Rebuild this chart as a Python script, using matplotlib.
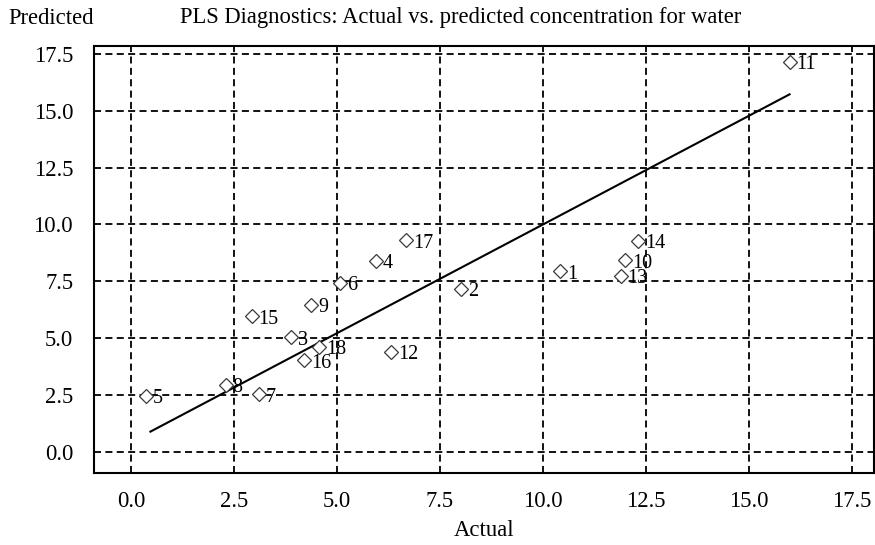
import matplotlib
matplotlib.use("Agg")
import matplotlib.pyplot as plt

# ---- data ----
sample_ids = ["1", "2", "3", "4", "5", "6", "7", "8", "9", "10",
              "11", "12", "13", "14", "15", "16", "17", "18"]
actual = [10.41, 8.01, 3.89, 5.95, 0.37, 5.07, 3.10, 2.30, 4.38, 12.00,
          15.99, 6.32, 11.89, 12.32, 2.93, 4.21, 6.68, 4.57]
predicted = [7.93, 7.17, 5.03, 8.38, 2.44, 7.43, 2.52, 2.95, 6.46, 8.41,
             17.16, 4.40, 7.73, 9.26, 5.95, 4.02, 9.29, 4.62]
fit_x = [0.47, 15.99]
fit_y = [0.88, 15.72]
ticks = [0.0, 2.5, 5.0, 7.5, 10.0, 12.5, 15.0, 17.5]
tick_labels = ["0.0", "2.5", "5.0", "7.5", "10.0", "12.5", "15.0", "17.5"]

title = "PLS Diagnostics: Actual vs. predicted concentration for water"
ylabel = "Predicted"
xlabel = "Actual"

plt.rcParams['font.family'] = ['Liberation Serif', 'DejaVu Serif']

W, H = 875, 545
fig = plt.figure(figsize=(W / 100, H / 100), dpi=100)
ax = fig.add_axes([94 / W, 1 - 473 / H, (874 - 94) / W, (473 - 45.7) / H])

ax.set_xlim(-0.9, 18.04)
ax.set_ylim(-0.94, 17.86)
ax.set_xticks(ticks)
ax.set_xticklabels(tick_labels)
ax.set_yticks(ticks)
ax.set_yticklabels(tick_labels)
ax.tick_params(length=0, labelsize=16.3, colors='black')
ax.tick_params(axis='y', pad=15)
ax.tick_params(axis='x', pad=13)

ax.grid(True, color='black', linewidth=1.3, linestyle=(0, (3.9, 2.4)))
ax.set_axisbelow(True)
for s in ax.spines.values():
    s.set_linewidth(1.5)
    s.set_color('black')

ax.plot(fit_x, fit_y, color='black', linewidth=1.5, zorder=3)
ax.plot(actual, predicted, linestyle='none', marker='D', markersize=7.3,
        markerfacecolor='white', markeredgecolor='#3a3a3a',
        markeredgewidth=0.9, zorder=4)
for sid, x, y in zip(sample_ids, actual, predicted):
    ax.annotate(sid, (x, y), xytext=(5, -2), textcoords='offset points',
                ha='left', va='center', fontsize=14.5, zorder=5)

fig.text(8 / W, 1 - 18 / H, ylabel, ha='left', va='center', fontsize=16.3)
fig.text(180 / W, 1 - 18 / H, title, ha='left', va='center', fontsize=16.3)
fig.text(484 / W, 1 - 531 / H, xlabel, ha='center', va='center', fontsize=16.3)

fig.savefig("out.png", dpi=100)
